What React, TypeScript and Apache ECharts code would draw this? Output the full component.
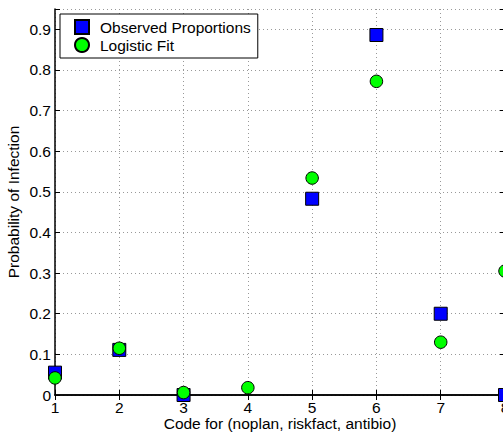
import React, { useEffect, useRef } from "react";
import * as echarts from "echarts";

const codes = [1, 2, 3, 4, 5, 6, 7, 8];
const observed: (number | null)[] = [0.055, 0.111, 0, null, 0.483, 0.886, 0.2, 0];
const fitted = [0.042, 0.115, 0.006, 0.018, 0.534, 0.772, 0.13, 0.305];
const xTitle = "Code for (noplan, riskfact, antibio)";
const yTitle = "Probability of Infection";
const seriesNames = ["Observed Proportions", "Logistic Fit"];

const FONT = "Liberation Sans, Arial, Helvetica, sans-serif";
const FS = 15.5;

export default function App() {
  const ref = useRef<HTMLDivElement>(null);
  useEffect(() => {
    document.body.style.margin = "0";
    const chart = echarts.init(ref.current!, null, { renderer: "svg" });
    const axisLine = { show: true, lineStyle: { color: "#000", width: 1.5 } };
    const splitLine = { show: true, lineStyle: { color: "#999", type: [1, 3] as any, width: 1 } };
    const tick = { show: true, inside: true, length: 5, lineStyle: { color: "#000" } };
    chart.setOption({
      animation: false,
      backgroundColor: "#fff",
      textStyle: { fontFamily: FONT },
      grid: { left: 55, right: -2, top: 9, bottom: 38, containLabel: false, outerBoundsMode: "none" },
      legend: {
        orient: "vertical",
        left: 60,
        top: 14,
        padding: [5, 7, 5, 14],
        itemGap: 2,
        itemWidth: 14,
        itemHeight: 14,
        backgroundColor: "#fff",
        borderColor: "#000",
        borderWidth: 1,
        borderRadius: 0,
        textStyle: { fontSize: FS, color: "#000", fontFamily: FONT, padding: [0, 0, 0, 6] },
        data: [
          { name: seriesNames[0], icon: "rect" },
          { name: seriesNames[1], icon: "circle" },
        ],
      },
      xAxis: [
        {
          type: "value",
          min: 1,
          max: 8,
          interval: 1,
          position: "bottom",
          axisLine,
          axisTick: tick,
          axisLabel: { color: "#000", fontSize: FS, lineHeight: 14, margin: 5, fontFamily: FONT },
          splitLine,
          name: xTitle,
          nameLocation: "middle",
          nameGap: 20,
          nameMoveOverlap: false,
          nameTextStyle: { color: "#000", fontSize: FS, lineHeight: 16, fontFamily: FONT },
        },
        {
          type: "value",
          min: 1,
          max: 8,
          interval: 1,
          position: "top",
          axisLine,
          axisTick: tick,
          axisLabel: { show: false },
          splitLine: { show: false },
        },
      ],
      yAxis: [
        {
          type: "value",
          min: 0,
          max: 0.95,
          interval: 0.1,
          position: "left",
          axisLine,
          axisTick: tick,
          axisLabel: {
            color: "#000",
            fontSize: FS,
            margin: 4,
            fontFamily: FONT,
            formatter: (v: number) => {
              const r = Math.round(v * 10) / 10;
              if (Math.abs(r - v) > 1e-6) return "";
              return r === 0 ? "0" : r.toFixed(1);
            },
          },
          splitLine,
          name: yTitle,
          nameLocation: "middle",
          nameGap: 34,
          nameMoveOverlap: false,
          nameTextStyle: { color: "#000", fontSize: FS, fontFamily: FONT },
        },
        {
          type: "value",
          min: 0,
          max: 0.95,
          interval: 0.1,
          position: "right",
          axisLine,
          axisTick: tick,
          axisLabel: { show: false },
          splitLine: { show: false },
        },
      ],
      series: [
        {
          name: seriesNames[0],
          type: "scatter",
          clip: false,
          symbol: "rect",
          symbolSize: 13,
          itemStyle: { color: "#0000ff", borderColor: "#000", borderWidth: 1, opacity: 1 },
          data: codes.map((c, i) => (observed[i] === null ? [c, "-"] : [c, observed[i]])),
          z: 3,
        },
        {
          name: seriesNames[1],
          type: "scatter",
          clip: false,
          symbol: "circle",
          symbolSize: 12.5,
          itemStyle: { color: "#00ff00", borderColor: "#000", borderWidth: 1, opacity: 1 },
          data: codes.map((c, i) => [c, fitted[i]]),
          z: 4,
        },
      ],
    });
    return () => chart.dispose();
  }, []);
  return <div ref={ref} style={{ width: 503, height: 433, position: "absolute", left: 0, top: 0 }} />;
}
